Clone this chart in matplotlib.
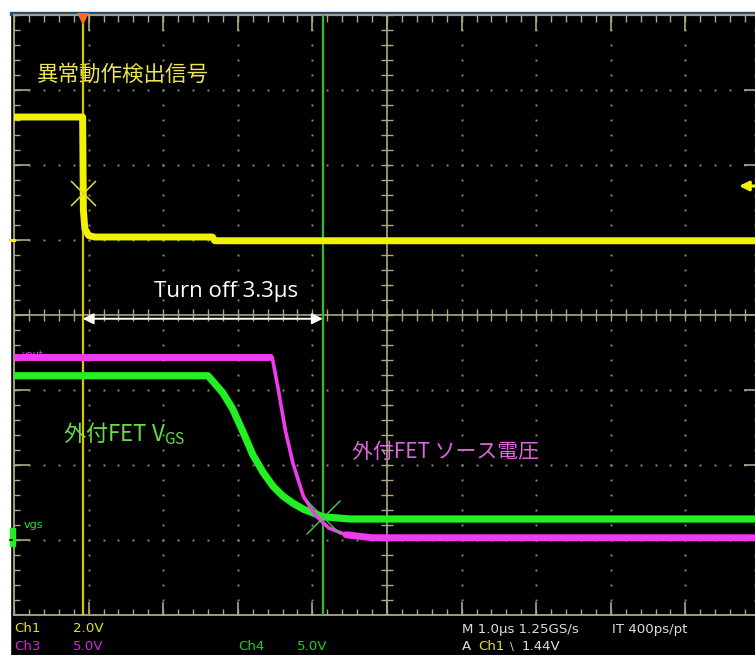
import numpy as np
import matplotlib
matplotlib.use("Agg")
import matplotlib.pyplot as plt
from matplotlib.patches import Rectangle

plt.rcParams['font.family'] = ['Noto Sans CJK JP', 'DejaVu Sans']
plt.rcParams['mathtext.fontset'] = 'custom'
plt.rcParams['mathtext.rm'] = 'Noto Sans CJK JP'

# scope traces, x in us (1 us/div, 0 = screen centre), y in divisions
ch1_t = [-5.0, -4.08, -4.07, -4.05, -4.00, -3.92, -2.34, -2.31, 5.0]
ch1_v = [2.64, 2.64, 1.40, 1.15, 1.06, 1.04, 1.04, 0.99, 0.99]

ch3_t = [-5.0, -1.54, -1.46, -1.36, -1.26, -1.12, -0.95, -0.78, -0.55, -0.2, 5.0]
ch3_v = [-0.56, -0.56, -0.98, -1.55, -1.98, -2.42, -2.68, -2.84, -2.93, -2.97, -2.97]

ch4_t = [-5.0, -2.40, -2.32, -2.20, -2.07, -1.93, -1.80, -1.66, -1.53, -1.40,
         -1.26, -1.12, -0.99, -0.86, -0.5, 5.0]
ch4_v = [-0.81, -0.81, -0.90, -1.04, -1.25, -1.56, -1.86, -2.10, -2.28, -2.41,
         -2.51, -2.59, -2.64, -2.69, -2.72, -2.72]

cursor1 = -4.08
cursor2 = -0.86
cursor1_mark = 1.63
cursor2_mark = -2.69
trig_level = 1.72
ch1_gnd = 1.0
ch4_gnd = -3.0

label_ch1 = '異常動作検出信号'
label_ch4 = '外付FET $\\mathrm{V}_{\\mathrm{GS}}$'
label_ch3 = '外付FET ソース電圧'
label_turnoff = 'Turn off 3.3µs'

status_row1 = [('Ch1', 14, '#E6E600'), ('2.0V', 73, '#E6E600'),
               ('M 1.0µs 1.25GS/s', 462, '#DDDDDD'), ('IT 400ps/pt', 612, '#DDDDDD')]
status_row2 = [('Ch3', 14, '#DD22DD'), ('5.0V', 73, '#DD22DD'),
               ('Ch4', 238, '#22CC22'), ('5.0V', 297, '#22CC22'),
               ('A', 462, '#DDDDDD'), ('Ch1', 478, '#E6E600'),
               ('\\', 510, '#DDDDDD'), ('1.44V', 522, '#DDDDDD')]

yellow = '#F2F200'
magenta = '#EE3CEE'
green = '#22F022'
grat = '#B0A884'
dotc = '#8C8C80'

fig = plt.figure(figsize=(7.55, 6.55), dpi=100, facecolor='black')

# pixel overlay for frame & status bar
bg = fig.add_axes([0, 0, 1, 1])
bg.set_xlim(0, 755)
bg.set_ylim(655, 0)
bg.axis('off')
bg.add_patch(Rectangle((0, 0), 755, 12, color='white', zorder=0))
bg.add_patch(Rectangle((0, 0), 10, 655, color='white', zorder=0))
bg.add_patch(Rectangle((10, 12), 745, 2.5, color='#1F4E79', zorder=1))

for txt, x, c in status_row1:
    bg.text(x, 629, txt, color=c, fontsize=9.6, family='DejaVu Sans',
            va='center', ha='left')
for txt, x, c in status_row2:
    bg.text(x, 647, txt, color=c, fontsize=9.6 if txt != '\\' else 8,
            family='DejaVu Sans', va='center', ha='left')

# scope screen: 10 x 8 divisions
ax = fig.add_axes([14 / 755, 40 / 655, 746 / 755, 600 / 655])
ax.set_xlim(-5, 5)
ax.set_ylim(-4, 4)
ax.axis('off')
ax.patch.set_alpha(0)

fine_y = np.arange(-4, 4.001, 0.2)
fine_x = np.arange(-5, 5.001, 0.2)
for gx in range(-4, 5):
    if gx != 0:
        ax.plot(np.full(fine_y.size, gx), fine_y, ls='none', marker='s', ms=1.4,
                mew=0, color=dotc, zorder=1)
for gy in range(-3, 4):
    if gy != 0:
        ax.plot(fine_x, np.full(fine_x.size, gy), ls='none', marker='s', ms=1.4,
                mew=0, color=dotc, zorder=1)

ax.axhline(0, color=grat, lw=1.2, zorder=1)
ax.axvline(0, color=grat, lw=1.2, zorder=1)
ax.vlines(fine_x, -0.08, 0.08, color=grat, lw=1.0, zorder=1)
ax.hlines(fine_y, -0.08, 0.08, color=grat, lw=1.0, zorder=1)

# border with inward ticks
kx = 1 / 74.6
ky = 1 / 75
ax.plot([-5, -5], [-4, 4], color=grat, lw=1.3, clip_on=False, zorder=1)
ax.plot([-5, 5.1], [4, 4], color=grat, lw=1.3, clip_on=False, zorder=1)
ax.plot([-5, 5.1], [-4, -4], color=grat, lw=1.3, clip_on=False, zorder=1)
ax.plot([5, 5], [-4, 4], color=grat, lw=1.3, zorder=1)
major_x = np.arange(-5, 5.001, 1.0)
major_y = np.arange(-4, 4.001, 1.0)
ax.vlines(fine_x, 4 - 7 * ky, 4, color=grat, lw=1.0, zorder=1)
ax.vlines(major_x, 4 - 16 * ky, 4, color=grat, lw=1.2, zorder=1)
ax.vlines(fine_x, -4, -4 + 6 * ky, color=grat, lw=1.0, zorder=1)
ax.vlines(major_x, -4, -4 + 13 * ky, color=grat, lw=1.2, zorder=1)
ax.hlines(fine_y, -5, -5 + 6 * kx, color=grat, lw=1.0, zorder=1)
ax.hlines(major_y, -5, -5 + 16 * kx, color=grat, lw=1.2, zorder=1)
ax.hlines(fine_y, 5 - 6 * kx, 5, color=grat, lw=1.0, zorder=1)
ax.hlines(major_y, 5 - 16 * kx, 5, color=grat, lw=1.2, zorder=1)

# cursors
ax.axvline(cursor1, color='#D8C800', lw=1.6, zorder=2)
ax.axvline(cursor2, color='#2EBE2E', lw=1.6, zorder=2)
ax.plot([cursor1], [cursor1_mark], marker='x', ms=18, mew=1.1, color='#E6DC30', zorder=5)
ax.plot([cursor2], [cursor2_mark], marker='x', ms=24, mew=1.0, color='#40D040', zorder=6)

# traces
ax.text(-5 + 8 * kx, ch3_v[0] + 0.02, 'vout', color=magenta, fontsize=7, family='DejaVu Sans',
        va='center', ha='left', zorder=2)
ax.plot(ch1_t, ch1_v, color=yellow, lw=5, solid_capstyle='butt', solid_joinstyle='round',
        zorder=3)
ax.plot(ch4_t, ch4_v, color=green, lw=5.2, solid_capstyle='butt', solid_joinstyle='round',
        zorder=3)
ax.plot(ch3_t, ch3_v, color=magenta, lw=2.6, solid_capstyle='butt', solid_joinstyle='round',
        zorder=4)
ax.plot(ch3_t[:2], ch3_v[:2], color=magenta, lw=5, solid_capstyle='butt', zorder=4)
ax.plot(ch3_t[-3:], ch3_v[-3:], color=magenta, lw=5, solid_capstyle='round', zorder=4)

# ground / trigger markers
ax.plot([-5 - 4 * kx, -5], [ch1_gnd, ch1_gnd], color=yellow, lw=2.2, clip_on=False, zorder=5)
ax.add_patch(Rectangle((-5 - 4.5 * kx, ch4_gnd - 6 * ky), 5 * kx, 18 * ky, color=green,
                       clip_on=False, zorder=5))
ax.plot([-5 - 4.5 * kx, -5 - 2 * kx], [ch4_gnd, ch4_gnd], color='black', lw=1.2,
        clip_on=False, zorder=6)
ax.plot([cursor1], [4 - 4 * ky], marker='v', ms=9, color='#FF6A2A', mew=0,
        clip_on=False, zorder=6)
ax.annotate('', xy=(4.72, trig_level), xytext=(5.0, trig_level),
            arrowprops=dict(arrowstyle='-|>', color=yellow, lw=2.2,
                            mutation_scale=14, shrinkA=0, shrinkB=0),
            zorder=6, annotation_clip=False)

# turn-off time arrow
ax.annotate('', xy=(cursor2, -0.05), xytext=(cursor1, -0.05),
            arrowprops=dict(arrowstyle='<|-|>', color='white', lw=1.4,
                            mutation_scale=16, shrinkA=0, shrinkB=0), zorder=7)

# labels
bg.text(37, 75, label_ch1, color='#EEE650', fontsize=15.5, va='center', ha='left')
bg.text(226, 292, label_turnoff, color='white', fontsize=16, va='center', ha='center',
        family=['Open Sans', 'DejaVu Sans'])
bg.text(63, 434, label_ch4, color='#66DD44', fontsize=16, va='center', ha='left')
bg.text(352, 452, label_ch3, color='#DD66DD', fontsize=15, va='center', ha='left')
bg.text(24, 525, 'vgs', color='#33DD33', fontsize=8, family='DejaVu Sans',
        va='center', ha='left')

fig.savefig('out.png', dpi=100, facecolor='black')
